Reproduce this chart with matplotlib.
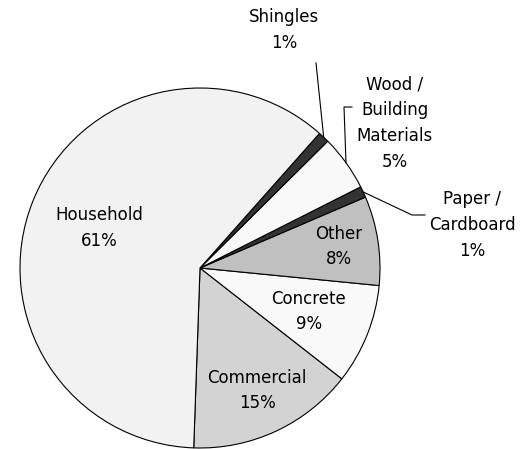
import matplotlib
matplotlib.use('Agg')
import matplotlib.pyplot as plt
import numpy as np

labels = ["Commercial", "Concrete", "Other", "Paper /\nCardboard", "Wood /\nBuilding\nMaterials", "Shingles", "Household"]
values = [15, 9, 8, 1, 5, 1, 61]
colors = ["#d3d3d3", "#f9f9f9", "#c0c0c0", "#333333", "#f9f9f9", "#333333", "#f2f2f2"]

# inner labels: radius fraction per wedge (None = outside label)
inner_r = [0.75, 0.65, 0.78, None, None, None, 0.60]
# outside labels: text centre and leader path (pixels relative to pie centre)
outer_text = {3: (272, 43), 4: (195, 145), 5: (84, 238)}
outer_path = {3: [(212, 53), (225, 53)], 4: [(144, 161), (152, 161)], 5: [(116, 205)]}

R = 180
fig = plt.figure(figsize=(5.29, 4.49), dpi=100)
ax = fig.add_axes([0, 0, 1, 1])

wedges, _ = ax.pie(values, colors=colors, startangle=-92, radius=R,
                   wedgeprops=dict(edgecolor='black', linewidth=0.8))
ax.set_xlim(-200, 329)
ax.set_ylim(-181, 268)
ax.set_aspect('equal')
ax.axis('off')

for i, w in enumerate(wedges):
    mid = np.deg2rad((w.theta1 + w.theta2) / 2)
    txt = f"{labels[i]}\n{values[i]}%"
    if inner_r[i] is not None:
        r = inner_r[i] * R
        ax.text(r * np.cos(mid), r * np.sin(mid), txt, ha='center', va='center',
                fontsize=12, linespacing=1.55)
    else:
        ex, ey = R * np.cos(mid), R * np.sin(mid)
        pts = [(ex, ey)] + outer_path[i]
        ax.plot([p[0] for p in pts], [p[1] for p in pts], color='black', lw=0.8)
        tx, ty = outer_text[i]
        ax.text(tx, ty, txt, ha='center', va='center', fontsize=12, linespacing=1.55)

fig.savefig("out.png", dpi=100)
